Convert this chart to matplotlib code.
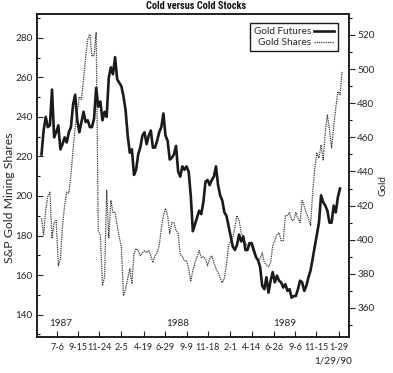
import matplotlib
matplotlib.use('Agg')
import matplotlib.pyplot as plt
import pandas as pd
from matplotlib.ticker import MultipleLocator
from matplotlib import font_manager

# Weekly closes (first week: 1987-05-15)
gold_futures = [450, 464, 472, 466, 467, 488, 460, 463, 467, 453, 456, 460, 457, 463, 466, 479,
                485, 470, 463, 469, 475, 469, 470, 466, 466, 471, 489, 478, 481, 470, 475, 472,
                495, 501, 497, 507, 494, 492, 490, 484, 476, 461, 451, 453, 438, 441, 450, 454,
                461, 463, 456, 461, 464, 454, 454, 458, 463, 466, 474, 461, 458, 447, 448, 450,
                455, 440, 437, 443, 441, 443, 440, 426, 405, 409, 413, 417, 415, 422, 434, 435,
                432, 435, 437, 443, 432, 426, 423, 416, 414, 408, 402, 396, 394, 397, 403, 399,
                402, 394, 394, 398, 398, 394, 390, 388, 384, 373, 371, 378, 369, 376, 381, 375,
                379, 376, 375, 372, 374, 370, 371, 366, 367, 367, 371, 376, 375, 370, 373, 378,
                382, 389, 396, 403, 410, 426, 422, 420, 417, 410, 410, 420, 416, 425, 430]

gold_shares = [188.7, 180.0, 192.7, 199.8, 201.9, 178.5, 186.6, 187.6, 164.7, 168.3, 185.1, 195.3,
               201.9, 201.4, 210.5, 223.3, 234.5, 242.6, 250.2, 248.7, 258.9, 270.1, 279.2, 281.8,
               270.6, 271.1, 282.8, 182.5, 180.0, 154.6, 159.1, 202.9, 178.5, 197.8, 191.7, 191.7,
               185.1, 179.0, 174.4, 149.5, 153.0, 158.1, 163.2, 155.6, 170.8, 173.4, 172.4, 169.8,
               171.3, 172.4, 171.3, 172.4, 169.8, 166.3, 169.8, 171.3, 174.9, 183.6, 190.1, 193.7,
               190.1, 181.0, 186.6, 186.6, 182.5, 181.0, 170.3, 169.3, 167.3, 167.3, 163.2, 157.1,
               162.2, 166.3, 169.3, 172.4, 168.8, 169.3, 168.3, 164.7, 168.3, 169.8, 166.3, 163.2,
               161.2, 158.6, 156.1, 158.6, 165.7, 174.9, 177.4, 179.0, 184.1, 190.1, 187.6, 181.5,
               179.0, 176.4, 174.4, 176.9, 173.9, 171.3, 168.3, 167.3, 168.3, 171.3, 166.3, 165.2,
               164.2, 166.3, 174.9, 177.4, 180.5, 181.5, 177.4, 177.4, 190.1, 190.1, 191.7, 187.6,
               187.6, 191.7, 188.7, 186.6, 197.8, 194.8, 191.2, 188.7, 185.1, 201.9, 214.1, 221.7,
               219.2, 225.8, 218.2, 232.4, 241.1, 233.4, 224.3, 235.0, 244.6, 252.8, 251.2, 263.0]

tick_dates = ['1987-07-06', '1987-09-15', '1987-11-24', '1988-02-05', '1988-04-19', '1988-06-29',
              '1988-09-09', '1988-11-18', '1989-02-01', '1989-04-14', '1989-06-26', '1989-09-06',
              '1989-11-15', '1990-01-29']
tick_labels = ['7-6', '9-15', '11-24', '2-5', '4-19', '6-29', '9-9', '11-18', '2-1', '4-14',
               '6-26', '9-6', '11-15', '1-29']
years = ['1987', '1988', '1989']

futures_dates = pd.date_range('1987-05-15', periods=len(gold_futures), freq='7D')
shares_dates = pd.date_range('1987-05-15', periods=len(gold_shares), freq='7D')


def pick_font(names):
    # first condensed family that is really installed
    for n in names:
        try:
            font_manager.findfont(font_manager.FontProperties(family=n, weight='bold'),
                                  fallback_to_default=False)
            return n
        except Exception:
            pass
    return 'DejaVu Sans'


title_font = pick_font(['Liberation Sans Narrow', 'Roboto Condensed', 'Archivo Narrow',
                        'PT Sans Narrow', 'Open Sans Condensed'])

plt.rcParams['font.family'] = ['Lato', 'DejaVu Sans']
txt = '#262626'
fs = 7.2

fig = plt.figure(figsize=(3.93, 3.73), dpi=100)
ax = fig.add_axes([37 / 393, 1 - 337 / 373, 312 / 393, 323 / 373])
ax2 = ax.twinx()

l2, = ax.plot(shares_dates, gold_shares, color='#3a3a3a', lw=0.9, ls=(0, (1, 0.8)),
              label='Gold Shares')
l1, = ax2.plot(futures_dates, gold_futures, color='#1a1a1a', lw=1.9, label='Gold Futures')

ax.set_xlim(pd.Timestamp('1987-04-30'), pd.Timestamp('1990-03-04'))
ax.set_ylim(128.7, 292)
ax2.set_ylim(343, 532.3)

ax.set_xticks(pd.to_datetime(tick_dates))
ax.set_xticklabels(tick_labels)
ax.yaxis.set_major_locator(MultipleLocator(20))
ax.yaxis.set_minor_locator(MultipleLocator(10))
ax2.yaxis.set_major_locator(MultipleLocator(20))
ax2.yaxis.set_minor_locator(MultipleLocator(10))

ax.tick_params(axis='x', direction='in', length=4, width=0.8, pad=4, labelsize=6.5, colors=txt)
ax.tick_params(axis='y', which='major', direction='in', length=4, width=0.8, pad=3,
               labelsize=fs, colors=txt)
ax.tick_params(axis='y', which='minor', direction='in', length=2.5, width=0.8)
ax2.tick_params(axis='y', which='major', direction='out', length=4, width=0.8, pad=2,
                labelsize=fs, colors=txt)
ax2.tick_params(axis='y', which='minor', direction='out', length=2.5, width=0.8)

for a in (ax, ax2):
    for s in a.spines.values():
        s.set_linewidth(1.1)
        s.set_color('#1a1a1a')

ax.set_ylabel('S&P Gold Mining Shares', fontsize=8.8, color=txt)
ax.yaxis.set_label_coords(-0.072, 0.43)
ax2.set_ylabel('Gold', fontsize=fs, color=txt, rotation=90)
ax2.yaxis.set_label_coords(1.096, 0.47)

for yr, xf in zip(years, [0.077, 0.452, 0.795]):
    ax.text(xf, 0.043, yr, transform=ax.transAxes, ha='center', va='center',
            fontsize=fs, color=txt)

fig.text(333 / 393, 1 - 361 / 373, '1/29/90', ha='center', va='center', fontsize=fs, color=txt)
title_size = 7.5 if title_font != 'DejaVu Sans' else 5.4
fig.text(196 / 393, 1 - 6 / 373, 'Cold versus Cold Stocks', ha='center', va='center',
         fontsize=title_size, fontweight='bold', color='#111', family=title_font)

leg = ax2.legend([l1, l2], ['Gold Futures', 'Gold Shares'], loc='upper right',
                 bbox_to_anchor=(0.965, 0.972), markerfirst=False, fontsize=fs,
                 handlelength=2.0, handletextpad=0.25, labelspacing=0.2, borderpad=0.4,
                 fancybox=False, framealpha=1, edgecolor='#1a1a1a', borderaxespad=0)
leg.get_frame().set_linewidth(1.0)
for t in leg.get_texts():
    t.set_color(txt)

fig.savefig('out.png', dpi=100)
